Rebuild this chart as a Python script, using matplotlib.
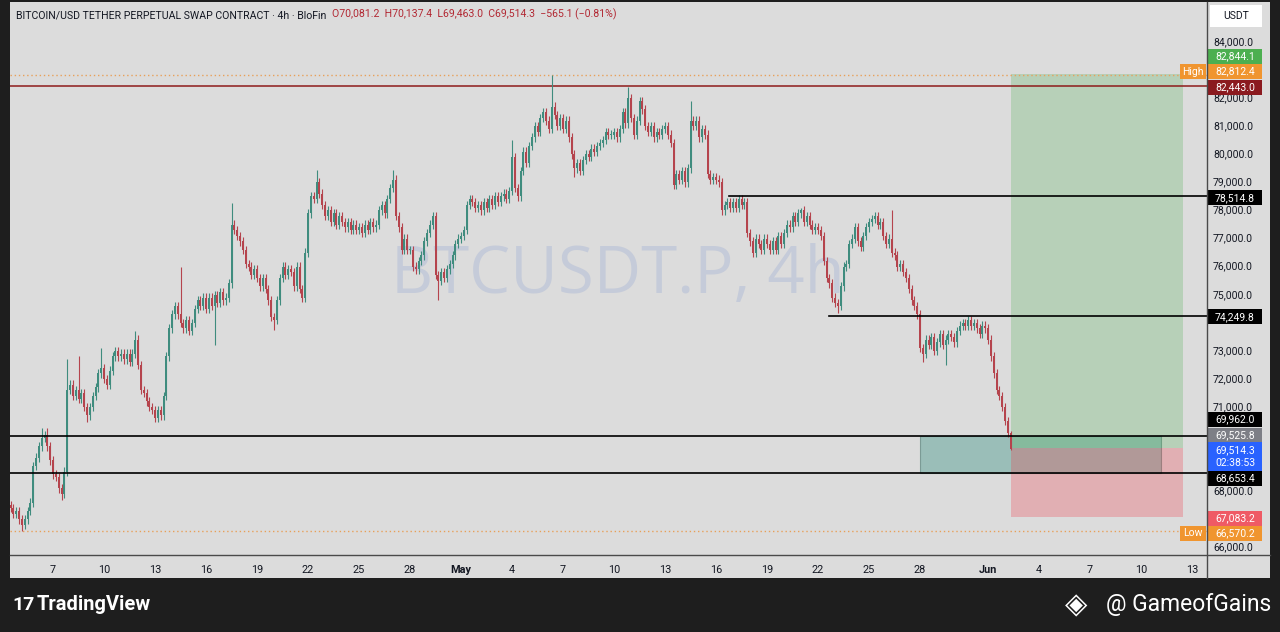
import matplotlib
matplotlib.use('Agg')
import matplotlib.pyplot as plt
import matplotlib.transforms as mtransforms
from matplotlib.patches import Rectangle
import pandas as pd

plt.rcParams['font.family'] = ['Roboto', 'DejaVu Sans']

# 4h closes in thousands USDT, one row per day (Apr 4 starts at 12:00, Jun 2 ends at 08:00)
closes_k = [
    67.4, 67.2, 67.3,                        # Apr 4
    67.0, 66.8, 67.0, 67.3, 67.6, 68.9,      # Apr 5
    69.2, 69.6, 69.9, 70.0, 69.6, 69.1,      # Apr 6
    68.6, 68.5, 68.1, 67.9, 68.7, 71.6,      # Apr 7
    71.8, 71.4, 71.6, 71.3, 71.5, 71.0,      # Apr 8
    70.7, 71.0, 71.4, 71.7, 72.2, 72.4,      # Apr 9
    72.0, 71.8, 72.3, 72.8, 73.0, 72.8,      # Apr 10
    72.9, 72.7, 72.9, 72.6, 72.9, 73.4,      # Apr 11
    72.5, 71.6, 71.5, 71.2, 71.0, 70.9,      # Apr 12
    70.6, 70.9, 70.7, 71.4, 72.8, 73.8,      # Apr 13
    74.3, 74.6, 74.3, 74.0, 73.8, 74.1,      # Apr 14
    73.7, 74.0, 74.5, 74.8, 74.6, 74.9,      # Apr 15
    74.5, 74.9, 74.6, 75.0, 74.7, 75.1,      # Apr 16
    74.8, 74.9, 75.4, 77.5, 77.3, 77.1,      # Apr 17
    76.9, 76.6, 76.1, 76.0, 75.7, 75.9,      # Apr 18
    75.6, 75.3, 75.6, 75.2, 74.8, 74.2,      # Apr 19
    74.1, 74.8, 75.6, 76.0, 75.7, 75.9,      # Apr 20
    75.8, 75.3, 76.0, 75.2, 74.9, 76.5,      # Apr 21
    77.9, 78.5, 78.4, 79.0, 78.6, 78.2,      # Apr 22
    77.8, 78.0, 77.6, 77.9, 77.5, 77.8,      # Apr 23
    77.6, 77.4, 77.6, 77.3, 77.5, 77.3,      # Apr 24
    77.4, 77.2, 77.5, 77.3, 77.6, 77.4,      # Apr 25
    77.5, 78.0, 78.2, 77.9, 78.4, 78.8,      # Apr 26
    79.1, 77.8, 77.4, 76.6, 77.0, 76.6,      # Apr 27
    76.6, 76.0, 75.9, 76.2, 76.4, 76.9,      # Apr 28
    77.2, 77.5, 77.8, 75.7, 75.5, 75.8,      # Apr 29
    75.6, 75.9, 76.1, 76.4, 76.8, 77.0,      # Apr 30
    77.1, 77.3, 78.2, 78.4, 78.3, 78.1,      # May 1
    78.2, 78.0, 78.3, 78.1, 78.4, 78.2,      # May 2
    78.5, 78.3, 78.5, 78.6, 78.4, 78.7,      # May 3
    79.9, 78.8, 78.5, 79.4, 80.1, 79.7,      # May 4
    80.3, 80.6, 81.0, 80.8, 81.3, 81.5,      # May 5
    81.2, 80.9, 81.7, 81.4, 81.0, 81.3,      # May 6
    80.9, 81.2, 80.6, 80.0, 79.5, 79.7,      # May 7
    79.4, 79.8, 80.0, 79.9, 80.2, 80.1,      # May 8
    80.3, 80.4, 80.5, 80.8, 80.7, 80.7,      # May 9
    80.8, 80.6, 80.9, 81.5, 81.1, 82.0,      # May 10
    81.3, 80.7, 81.2, 81.9, 81.6, 81.0,      # May 11
    80.8, 81.0, 80.6, 80.8, 80.7, 80.9,      # May 12
    81.0, 80.7, 80.4, 78.9, 79.3, 79.1,      # May 13
    79.4, 79.0, 79.5, 81.2, 81.0, 81.2,      # May 14
    80.6, 80.9, 80.7, 79.3, 79.1, 79.2,      # May 15
    79.1, 79.0, 78.0, 78.2, 78.3, 78.1,      # May 16
    78.3, 78.1, 78.4, 78.2, 78.3, 77.2,      # May 17
    76.9, 76.5, 77.0, 76.8, 76.6, 77.0,      # May 18
    76.8, 76.6, 76.9, 76.6, 77.1, 76.8,      # May 19
    77.2, 77.5, 77.4, 77.8, 77.6, 77.9,      # May 20
    78.0, 77.6, 77.8, 77.5, 77.3, 77.4,      # May 21
    77.3, 77.1, 76.2, 75.6, 75.4, 74.9,      # May 22
    74.7, 74.6, 75.3, 76.0, 76.1, 76.8,      # May 23
    77.0, 77.4, 76.9, 76.7, 77.1, 77.4,      # May 24
    77.6, 77.7, 77.8, 77.5, 77.6, 77.1,      # May 25
    76.8, 77.0, 76.5, 76.4, 76.0, 76.1,      # May 26
    75.8, 75.6, 75.2, 74.8, 74.6, 74.3,      # May 27
    73.1, 72.9, 73.4, 73.2, 73.5, 73.0,      # May 28
    73.3, 73.6, 73.2, 73.4, 73.6, 73.5,      # May 29
    73.3, 73.7, 73.9, 74.0, 73.9, 74.1,      # May 30
    73.9, 74.0, 73.8, 73.6, 73.9, 73.8,      # May 31
    73.4, 72.8, 72.2, 71.6, 71.4, 71.0,      # Jun 1
    70.5, 70.0812, 69.5143,                  # Jun 2
]
first_open = 67500.0

# wick extremes
spike_highs = {
    '2024-04-06 08:00': 70270, '2024-04-06 16:00': 70250, '2024-04-07 20:00': 72700,
    '2024-04-08 12:00': 72800, '2024-04-09 20:00': 73100, '2024-04-11 20:00': 73700,
    '2024-04-14 12:00': 76000, '2024-04-17 12:00': 78270, '2024-04-22 12:00': 79450,
    '2024-04-27 00:00': 79450, '2024-05-04 00:00': 80500, '2024-05-06 08:00': 82812.4,
    '2024-05-10 20:00': 82400, '2024-05-14 12:00': 81900, '2024-05-21 00:00': 78100,
    '2024-05-26 08:00': 78000, '2024-06-02 08:00': 70137.4,
}
spike_lows = {
    '2024-04-05 04:00': 66570.2, '2024-04-07 12:00': 67700, '2024-04-09 00:00': 70450,
    '2024-04-16 12:00': 73200, '2024-04-20 00:00': 73750, '2024-04-29 16:00': 74800,
    '2024-05-07 16:00': 79200, '2024-05-23 04:00': 74350, '2024-05-28 04:00': 72600,
    '2024-05-29 12:00': 72500, '2024-06-02 08:00': 69463.0,
}

# drawn levels
level_red = 82443.0
level_high = 82812.4
level_low = 66570.2
level_res = [(78514.8, '2024-05-16 19:00'), (74249.8, '2024-05-22 15:30')]
zone_top, zone_bot = 69962.0, 68653.4
zone_span = ('2024-05-28 00:00', '2024-06-11 04:00')
pos_entry, pos_target, pos_stop = 69525.8, 82844.1, 67083.2
pos_span = ('2024-06-02 08:00', '2024-06-12 11:00')

# price-scale tags: text, box colour, centre (placed as on the scale)
tag_text = ['82,844.1', '82,812.4', '82,443.0', '78,514.8', '74,249.8', '69,962.0',
            '69,525.8', '69,514.3\n02:38:53', '68,653.4', '67,083.2', '66,570.2']
tag_color = ['#4caf50', '#f0952f', '#8b1a1f', '#000000', '#000000', '#000000',
             '#7d7f86', '#2962ff', '#000000', '#ef5a65', '#f0952f']
tag_center = [83477, 82944, 82388, 78450, 74217, 70553, 69994, 69237, 68454, 67031, 66497]
tag_rows = [1, 1, 1, 1, 1, 1, 1, 2, 1, 1, 1]
price_ticks = [84000, 82000, 81000, 80000, 79000, 78000, 77000, 76000, 75000,
               73000, 72000, 71000, 68000, 66000]

xtick_days = [0, 3, 6, 9, 12, 15, 18, 21, 24, 27, 30, 33, 36, 39, 42, 45, 48, 51, 55, 58, 61, 64, 67]
xtick_labels = ['7', '10', '13', '16', '19', '22', '25', '28', 'May', '4', '7', '10', '13',
                '16', '19', '22', '25', '28', 'Jun', '4', '7', '10', '13']

base = pd.Timestamp('2024-04-07 00:00')
times = pd.date_range('2024-04-04 12:00', periods=len(closes_k), freq='4h')


def tday(ts):
    return (pd.Timestamp(ts) - base) / pd.Timedelta(days=1)


BG = '#dcdcdc'
UP = '#3f8c7e'
DN = '#b5444d'
INK = '#131722'
PX = 1000 / 28.08   # price units per pixel

fig = plt.figure(figsize=(12.8, 6.32), dpi=100, facecolor='#1e1e1e')
fig.patches.append(Rectangle((10 / 1280, 54 / 632), 1260 / 1280, 576 / 632,
                             transform=fig.transFigure, facecolor=BG, edgecolor='none', zorder=-5))
ax = fig.add_axes([10 / 1280, 77 / 632, 1197 / 1280, 553 / 632])
ax.set_facecolor(BG)
for s in ax.spines.values():
    s.set_visible(False)
ax.set_xlim(-2.53, 67.88)
ax.set_ylim(84000 - 513 * PX, 84000 + 40 * PX)
ax.set_xticks([])
ax.set_yticks([])

# watermark
ax.text(0.508, 0.505, 'BTCUSDT.P, 4h', transform=ax.transAxes, ha='center', va='center',
        fontsize=47, color='#c5cbd9', family='Open Sans', zorder=0)

# candles
prev = first_open
w = 0.64 / 6
for ts, ck in zip(times, closes_k):
    c = ck * 1000
    o = prev
    key = ts.strftime('%Y-%m-%d %H:%M')
    hi = spike_highs.get(key, max(o, c) + 150)
    lo = spike_lows.get(key, min(o, c) - 150)
    col = UP if c >= o else DN
    x = tday(ts)
    ax.vlines(x, lo, hi, color=col, lw=0.8, zorder=3)
    ax.bar(x, max(abs(c - o), 40), bottom=min(o, c), width=w, color=col, zorder=3, lw=0)
    prev = c

# levels
ax.axhline(level_red, color='#8e1b1b', lw=1.1, zorder=2)
ax.axhline(level_high, color='#e8a05a', lw=1.0, ls=(0, (1, 2)), zorder=2)
ax.axhline(level_low, color='#e8a05a', lw=1.0, ls=(0, (1, 2)), zorder=2)
for lv, start in level_res:
    ax.plot([tday(start), 67.88], [lv, lv], color='black', lw=1.2, zorder=4)
ax.axhline(zone_top, color='black', lw=1.2, zorder=4)
ax.axhline(zone_bot, color='black', lw=1.2, zorder=4)

# zone box and long position
zx0, zx1 = tday(zone_span[0]), tday(zone_span[1])
ax.add_patch(Rectangle((zx0, zone_bot), zx1 - zx0, zone_top - zone_bot,
                       facecolor='#4b9b8e', alpha=0.45, edgecolor='#2f5f55', lw=0.8, zorder=1.4))
px0, px1 = tday(pos_span[0]), tday(pos_span[1])
ax.add_patch(Rectangle((px0, pos_entry), px1 - px0, pos_target - pos_entry,
                       facecolor='#4caf50', alpha=0.25, edgecolor='none', zorder=1.5))
ax.add_patch(Rectangle((px0, pos_stop), px1 - px0, pos_entry - pos_stop,
                       facecolor='#f23645', alpha=0.27, edgecolor='none', zorder=1.5))

# header
t1 = ax.text(0.005, 0.985, 'BITCOIN/USD TETHER PERPETUAL SWAP CONTRACT · 4h · BloFin  ',
             transform=ax.transAxes, ha='left', va='top', fontsize=7.6, color=INK, zorder=6)
ax.annotate('O70,081.2  H70,137.4  L69,463.0  C69,514.3  −565.1 (−0.81%)', xy=(1, 0),
            xycoords=t1, ha='left', va='bottom', fontsize=7.6, color='#b22833', zorder=6)

# right price scale
trans = mtransforms.blended_transform_factory(ax.transAxes, ax.transData)
for v in price_ticks:
    ax.text(1.005, v, f'{v:,.1f}', transform=trans, ha='left', va='center',
            fontsize=7.5, color=INK, clip_on=False, zorder=5)

bx0 = 1.0008
bw = 54 / 1197
for s, fc, yc, rows in zip(tag_text, tag_color, tag_center, tag_rows):
    h = (15 if rows == 1 else 29) * PX
    ax.add_patch(Rectangle((bx0, yc - h / 2), bw, h, transform=trans, facecolor=fc,
                           edgecolor='none', clip_on=False, zorder=7))
    ax.text(bx0 + bw / 2, yc, s, transform=trans, ha='center', va='center', fontsize=7.5,
            color='white', clip_on=False, zorder=8, linespacing=1.25)
for yc, s in [(82944, 'High'), (66497, 'Low')]:
    hx0 = 1 - 27 / 1197
    ax.add_patch(Rectangle((hx0, yc - 7.5 * PX), 26 / 1197, 15 * PX, transform=trans,
                           facecolor='#f0952f', edgecolor='none', clip_on=False, zorder=7))
    ax.text(hx0 + 13 / 1197, yc, s, transform=trans, ha='center', va='center', fontsize=7.5,
            color='white', clip_on=False, zorder=8)

fig.patches.append(Rectangle((1210 / 1280, 1 - 27 / 632), 52 / 1280, 22 / 632,
                             transform=fig.transFigure, facecolor='white', edgecolor='none', zorder=3))
fig.text(1236 / 1280, 1 - 16 / 632, 'USDT', ha='center', va='center', fontsize=7.5, color=INK,
         zorder=4)

# separators
fig.add_artist(plt.Line2D([1207 / 1280, 1207 / 1280], [54 / 632, 630 / 632], transform=fig.transFigure,
                          color='#4a4a4a', lw=1.0))
fig.add_artist(plt.Line2D([10 / 1280, 1270 / 1280], [77 / 632, 77 / 632], transform=fig.transFigure,
                          color='#4a4a4a', lw=1.0))

# time axis labels
xtrans = mtransforms.blended_transform_factory(ax.transData, ax.transAxes)
for d, lab in zip(xtick_days, xtick_labels):
    ax.text(d, -0.018, lab, transform=xtrans, ha='center', va='top', fontsize=7.8, color=INK,
            clip_on=False, fontweight='bold' if lab in ('May', 'Jun') else 'normal')

# footer
fig.text(12 / 1280, 1 - 605 / 632, '17', ha='left', va='center', fontsize=14, fontweight='bold',
         color='white')
fig.text(37 / 1280, 1 - 605 / 632, 'TradingView', ha='left', va='center', fontsize=14.5,
         fontweight='bold', color='white')
fig.text(1076 / 1280, 1 - 605 / 632, '◈', ha='center', va='center', fontsize=21, color='white',
         family=['DejaVu Sans'])
fig.text(1271 / 1280, 1 - 605 / 632, '@ GameofGains', ha='right', va='center', fontsize=16.5,
         color='white')

fig.savefig('out.png', dpi=100, facecolor=fig.get_facecolor())
